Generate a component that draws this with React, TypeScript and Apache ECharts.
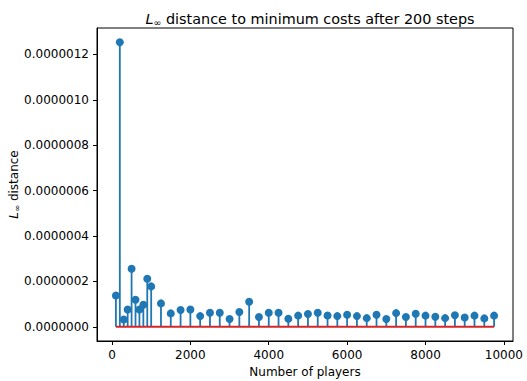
import React, { useEffect, useRef } from "react";
import * as echarts from "echarts";

const players = [
  100, 200, 300, 400, 500, 600, 700, 800, 900, 1000,
  1250, 1500, 1750, 2000, 2250, 2500, 2750, 3000, 3250, 3500,
  3750, 4000, 4250, 4500, 4750, 5000, 5250, 5500, 5750, 6000,
  6250, 6500, 6750, 7000, 7250, 7500, 7750, 8000, 8250, 8500,
  8750, 9000, 9250, 9500, 9750,
];
const distances = [
  1.38e-7, 12.54e-7, 0.32e-7, 0.76e-7, 2.56e-7, 1.19e-7, 0.76e-7, 0.97e-7, 2.12e-7, 1.78e-7,
  1.03e-7, 0.59e-7, 0.74e-7, 0.76e-7, 0.47e-7, 0.62e-7, 0.62e-7, 0.34e-7, 0.65e-7, 1.1e-7,
  0.43e-7, 0.62e-7, 0.62e-7, 0.35e-7, 0.49e-7, 0.56e-7, 0.62e-7, 0.5e-7, 0.47e-7, 0.53e-7,
  0.47e-7, 0.38e-7, 0.53e-7, 0.34e-7, 0.6e-7, 0.43e-7, 0.57e-7, 0.49e-7, 0.44e-7, 0.38e-7,
  0.51e-7, 0.41e-7, 0.49e-7, 0.37e-7, 0.49e-7,
];
const xTicks = [0, 2000, 4000, 6000, 8000, 10000];
const yTicks = [0, 2e-7, 4e-7, 6e-7, 8e-7, 10e-7, 12e-7];

const FONT = "DejaVu Sans";
const BLUE = "#1f77b4";
const RED = "#d62728";

export default function App() {
  const ref = useRef<HTMLDivElement>(null);
  useEffect(() => {
    if (!ref.current) return;
    const chart = echarts.init(ref.current, null, { renderer: "svg" });
    const pts = players.map((p, i) => [p, distances[i]]);
    const xMinD = Math.min(...players);
    const xMaxD = Math.max(...players);
    const xr = xMaxD - xMinD;
    const yMaxD = Math.max(...distances);
    chart.setOption({
      animation: false,
      backgroundColor: "#fff",
      textStyle: { fontFamily: FONT },
      title: {
        text: "{i|L}{s|∞}{n| distance to minimum costs after 200 steps}",
        left: 305,
        textAlign: "center",
        top: 6,
        textStyle: {
          fontWeight: "normal",
          rich: {
            i: { fontFamily: FONT, fontSize: 14.4, fontStyle: "italic", fontWeight: "normal", color: "#000" },
            s: { fontFamily: FONT, fontSize: 9.5, fontWeight: "normal", color: "#000", padding: [6, 0, 0, 0] },
            n: { fontFamily: FONT, fontSize: 14.4, fontWeight: "normal", color: "#000" },
          },
        },
      },
      graphic: [
        {
          type: "text",
          x: 14,
          y: 184.5,
          rotation: Math.PI / 2,
          style: {
            text: "{i|L}{s|∞}{n| distance}",
            align: "center",
            verticalAlign: "middle",
            rich: {
              i: { fontFamily: FONT, fontSize: 12, fontStyle: "italic", fill: "#000" },
              s: { fontFamily: FONT, fontSize: 8.5, fill: "#000", padding: [5, 0, 0, 0] },
              n: { fontFamily: FONT, fontSize: 12, fill: "#000" },
            },
          },
        },
      ],
      grid: {
        left: 97,
        right: 14,
        top: 28,
        bottom: 40,
        containLabel: false,
        outerBoundsMode: "none",
        show: true,
        borderColor: "#000",
        borderWidth: 1,
        backgroundColor: "transparent",
      },
      xAxis: {
        type: "value",
        min: xMinD - 0.05 * xr,
        max: xMaxD + 0.05 * xr,
        name: "Number of players",
        nameLocation: "middle",
        nameGap: 23,
        nameTextStyle: { fontFamily: FONT, fontSize: 12, color: "#000" },
        axisLine: { show: true, onZero: false, lineStyle: { color: "#000", width: 1 } },
        axisTick: { show: true, customValues: xTicks, length: 4, lineStyle: { color: "#000" } },
        axisLabel: {
          customValues: xTicks,
          fontFamily: FONT,
          fontSize: 12,
          color: "#000",
          margin: 8,
          formatter: (v: number) => String(Math.round(v)),
        },
        splitLine: { show: false },
      },
      yAxis: {
        type: "value",
        min: -0.05 * yMaxD,
        max: yMaxD * 1.05,
        axisLine: { show: true, onZero: false, lineStyle: { color: "#000", width: 1 } },
        axisTick: { show: true, customValues: yTicks, length: 4, lineStyle: { color: "#000" } },
        axisLabel: {
          customValues: yTicks,
          fontFamily: FONT,
          fontSize: 12,
          color: "#000",
          margin: 8,
          formatter: (v: number) => v.toFixed(7),
        },
        splitLine: { show: false },
      },
      series: [
        {
          type: "custom",
          data: pts,
          z: 2,
          renderItem: (params: any, api: any) => {
            const top = api.coord([api.value(0), api.value(1)]);
            const bot = api.coord([api.value(0), 0]);
            return {
              type: "line",
              shape: { x1: top[0], y1: top[1], x2: bot[0], y2: bot[1] },
              style: { stroke: BLUE, lineWidth: 1.8 },
            };
          },
        },
        {
          type: "scatter",
          data: pts,
          symbol: "circle",
          symbolSize: 8,
          itemStyle: { color: BLUE, opacity: 1 },
          z: 3,
        },
        {
          type: "line",
          data: [[xMinD, 0], [xMaxD, 0]],
          symbol: "none",
          lineStyle: { color: RED, width: 1.8 },
          z: 4,
        },
      ],
    });
    return () => chart.dispose();
  }, []);
  return (
    <div
      ref={ref}
      style={{ position: "absolute", left: 0, top: 0, width: 527, height: 381 }}
    />
  );
}
